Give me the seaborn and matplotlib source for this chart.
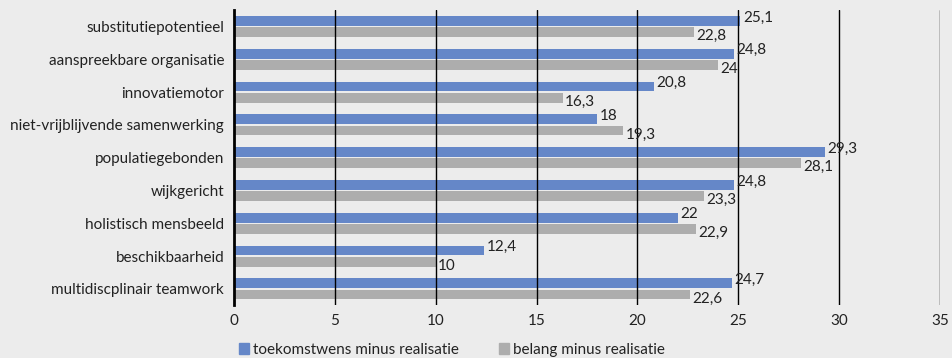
import matplotlib
matplotlib.use('Agg')
import numpy as np
import pandas as pd
import matplotlib.pyplot as plt
import seaborn as sns

categories = ['substitutiepotentieel', 'aanspreekbare organisatie', 'innovatiemotor',
              'niet-vrijblijvende samenwerking', 'populatiegebonden', 'wijkgericht',
              'holistisch mensbeeld', 'beschikbaarheid', 'multidiscplinair teamwork']
toekomst = [25.1, 24.8, 20.8, 18, 29.3, 24.8, 22, 12.4, 24.7]
belang = [22.8, 24, 16.3, 19.3, 28.1, 23.3, 22.9, 10, 22.6]
series = ['toekomstwens minus realisatie', 'belang minus realisatie']
kleuren = ['#6587c8', '#adadad']

df = pd.DataFrame({
    'categorie': categories * 2,
    'waarde': toekomst + belang,
    'reeks': [series[0]] * len(categories) + [series[1]] * len(categories),
})

bg = '#ececec'
sns.set_theme(style='white')
plt.rcParams['font.family'] = ['Lato', 'DejaVu Sans']
plt.rcParams['text.color'] = '#222222'

fig = plt.figure(figsize=(9.53, 3.58), dpi=100, facecolor=bg)
ax = fig.add_axes([0.2455, 0.147, 0.741, 0.825])
ax.set_facecolor(bg)

sns.barplot(data=df, y='categorie', x='waarde', hue='reeks', order=categories,
            hue_order=series, palette=kleuren, orient='h', width=0.68, gap=0.12,
            saturation=1, linewidth=0, ax=ax, legend=False)

# waardelabels met komma als decimaalteken
for cont, dy in zip(ax.containers, [-0.1, 0.12]):
    for bar in cont:
        w = bar.get_width()
        yc = bar.get_y() + bar.get_height() / 2 + dy
        txt = ('%g' % w).replace('.', ',')
        ax.text(w + 0.12, yc, txt, va='center', ha='left', fontsize=11,
                color='#222222', zorder=5)

ax.set_xlim(0, 35)
ax.set_xticks(range(0, 36, 5))
ax.set_xlabel('')
ax.set_ylabel('')
for x in range(5, 36, 5):
    ax.axvline(x, color='black', lw=1, zorder=4)
for s in ['top', 'right', 'bottom']:
    ax.spines[s].set_visible(False)
ax.spines['left'].set_color('black')
ax.spines['left'].set_linewidth(2)
ax.spines['left'].set_zorder(4)
ax.tick_params(axis='both', length=0, labelsize=11, colors='#222222')
ax.tick_params(axis='y', pad=7)
ax.tick_params(axis='x', pad=6)

handles = [plt.Rectangle((0, 0), 1, 1, color=c) for c in kleuren]
fig.legend(handles, series, loc='lower left', bbox_to_anchor=(0.236, -0.035), ncol=2,
           frameon=False, fontsize=11, handlelength=0.7, handleheight=0.7,
           handletextpad=0.25, columnspacing=2.6)

plt.savefig('out.png', dpi=100, facecolor=bg)
plt.close()
